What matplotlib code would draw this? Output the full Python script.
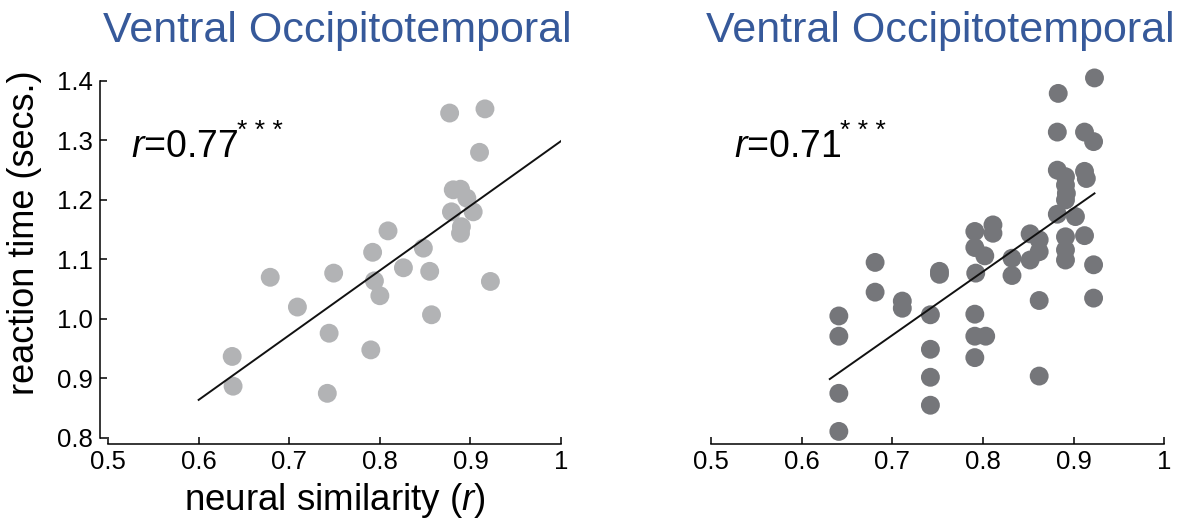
import matplotlib

matplotlib.use("Agg")

import matplotlib.pyplot as plt
import numpy as np

plt.rcParams["font.family"] = ["Liberation Sans", "DejaVu Sans"]
plt.rcParams["mathtext.fontset"] = "custom"
plt.rcParams["mathtext.rm"] = "Liberation Sans"
plt.rcParams["mathtext.it"] = "Liberation Sans:italic"

# left panel: neural similarity vs reaction time
left_x = [0.877, 0.916, 0.910, 0.881, 0.889, 0.896, 0.879, 0.903, 0.890, 0.889,
          0.809, 0.848, 0.792, 0.826, 0.855, 0.749, 0.679, 0.794, 0.800, 0.922,
          0.709, 0.857, 0.744, 0.790, 0.637, 0.638, 0.742]
left_y = [1.346, 1.353, 1.280, 1.217, 1.218, 1.203, 1.180, 1.180, 1.155, 1.144,
          1.148, 1.119, 1.112, 1.086, 1.080, 1.077, 1.070, 1.064, 1.039, 1.063,
          1.020, 1.007, 0.976, 0.948, 0.937, 0.887, 0.875]
left_line_x = [0.6, 1.0]
left_line_y = [0.864, 1.299]
left_r = "0.77"

# right panel
right_x = [0.923, 0.883, 0.882, 0.912, 0.922, 0.882, 0.912, 0.914, 0.891, 0.891,
           0.892, 0.891, 0.882, 0.902, 0.891, 0.912, 0.891, 0.891, 0.922, 0.922,
           0.862, 0.862, 0.852, 0.862, 0.862, 0.852, 0.832, 0.832, 0.811, 0.811,
           0.791, 0.791, 0.802, 0.792, 0.791, 0.791, 0.803, 0.791, 0.752, 0.752,
           0.711, 0.711, 0.681, 0.681, 0.742, 0.742, 0.742, 0.742, 0.641, 0.641,
           0.641, 0.641]
right_y = [1.405, 1.379, 1.314, 1.314, 1.298, 1.250, 1.248, 1.236, 1.239, 1.225,
           1.211, 1.200, 1.176, 1.172, 1.138, 1.140, 1.116, 1.099, 1.091, 1.035,
           1.031, 0.904, 1.143, 1.133, 1.113, 1.099, 1.102, 1.073, 1.158, 1.144,
           1.147, 1.120, 1.106, 1.077, 1.008, 0.971, 0.971, 0.935, 1.080, 1.075,
           1.030, 1.018, 1.095, 1.045, 1.007, 0.949, 0.902, 0.855, 1.005, 0.971,
           0.875, 0.811]
right_line_x = [0.631, 0.923]
right_line_y = [0.899, 1.211]
right_r = "0.71"

x_ticks = [0.5, 0.6, 0.7, 0.8, 0.9, 1.0]
x_ticklabels = ["0.5", "0.6", "0.7", "0.8", "0.9", "1"]
y_ticks = [0.8, 0.9, 1.0, 1.1, 1.2, 1.3, 1.4]
y_ticklabels = ["0.8", "0.9", "1.0", "1.1", "1.2", "1.3", "1.4"]

title = "Ventral Occipitotemporal"
title_color = "#36599a"


def style_axes(ax, show_y):
    ax.set_xlim(0.5, 1.0)
    ax.set_ylim(0.8, 1.4)
    for side in ["top", "right"]:
        ax.spines[side].set_visible(False)
    ax.spines["bottom"].set_position(("outward", 4))
    ax.spines["left"].set_position(("outward", 6))
    ax.spines["bottom"].set_linewidth(1.1)
    ax.spines["left"].set_linewidth(1.1)
    ax.set_xticks(x_ticks)
    ax.set_xticklabels(x_ticklabels)
    ax.tick_params(direction="in", length=5, width=1.1, labelsize=18.5, pad=5)
    if show_y:
        ax.set_yticks(y_ticks)
        ax.set_yticklabels(y_ticklabels)
    else:
        ax.spines["left"].set_visible(False)
        ax.set_yticks([])


def panel(ax, xs, ys, lx, ly, r_text, color, show_y):
    ax.scatter(xs, ys, s=185, color=color, edgecolors="none", zorder=2, clip_on=False)
    ax.plot(lx, ly, color="#111111", linewidth=1.4, zorder=3)
    style_axes(ax, show_y)
    ax.text(0.505, 1.14, title, transform=ax.transAxes, ha="center", va="center",
            fontsize=31, color=title_color)
    ax.text(0.05, 0.815, r"$\it{r}$=" + r_text, transform=ax.transAxes,
            ha="left", va="center", fontsize=27)
    ax.text(0.285, 0.86, "* * *", transform=ax.transAxes, ha="left",
            va="center", fontsize=19)


fig = plt.figure(figsize=(11.77, 5.22), dpi=100)
ax1 = fig.add_axes([0.0918, 0.161, 0.3849, 0.684])
ax2 = fig.add_axes([0.6041, 0.161, 0.3851, 0.684])

panel(ax1, left_x, left_y, left_line_x, left_line_y, left_r, "#b2b3b5", True)
panel(ax2, right_x, right_y, right_line_x, right_line_y, right_r, "#75767a", False)

ax1.set_ylabel("reaction time (secs.)", fontsize=26)
ax1.yaxis.set_label_coords(-0.145, 0.574)
ax1.set_xlabel(r"neural similarity ($\it{r}$)", fontsize=26.5, labelpad=5)

fig.savefig("out.png", dpi=100)
